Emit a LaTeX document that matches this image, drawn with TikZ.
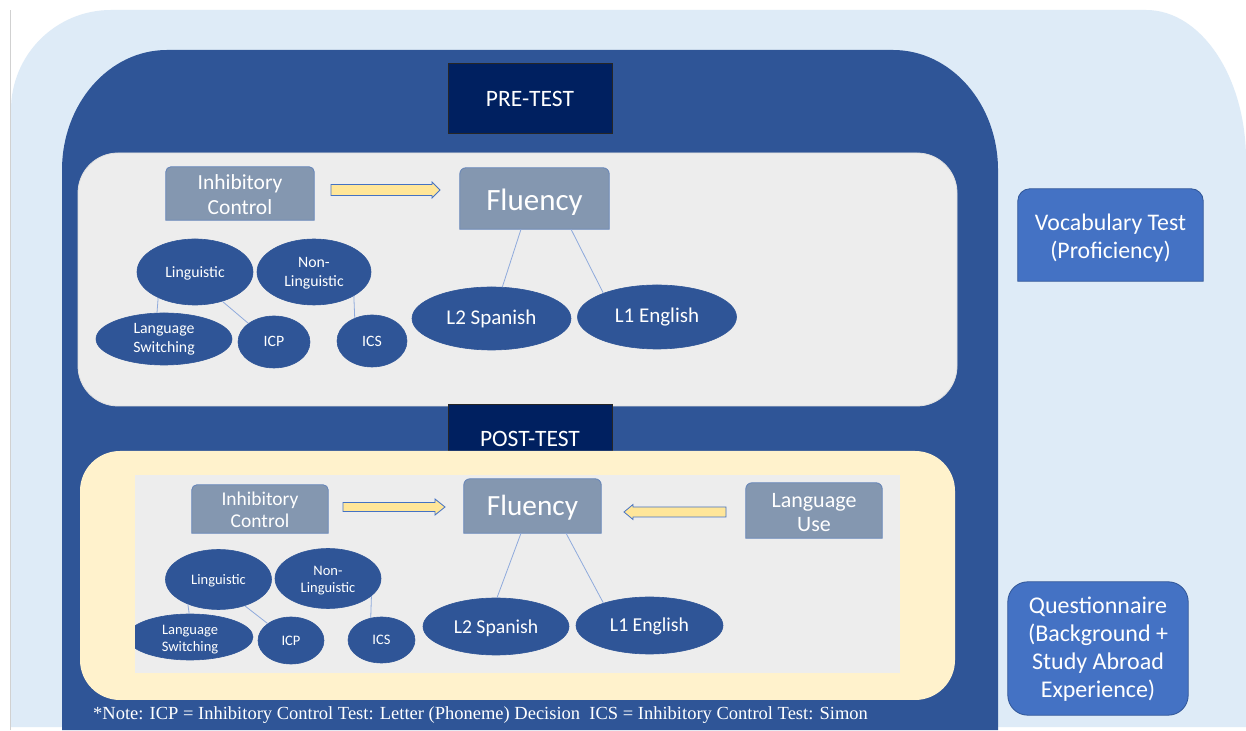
\documentclass[tikz,border=0pt]{standalone}
\usepackage{fontspec}
\setmainfont{Carlito}
\newfontfamily\notefont{Liberation Serif}
\usetikzlibrary{shapes.geometric}

\definecolor{paleblue}{HTML}{DEEBF7}
\definecolor{frameblue}{HTML}{2F5597}
\definecolor{navy}{HTML}{002060}
\definecolor{panelgray}{HTML}{EDEDED}
\definecolor{cream}{HTML}{FFF2CC}
\definecolor{slate}{HTML}{8497B0}
\definecolor{slateedge}{HTML}{6383B8}
\definecolor{ovalblue}{HTML}{2F5597}
\definecolor{linkblue}{HTML}{8FAADC}
\definecolor{arrowfill}{HTML}{FFE699}
\definecolor{arrowedge}{HTML}{4472C4}
\definecolor{sideblue}{HTML}{4472C4}

\pgfdeclarelayer{back}
\pgfdeclarelayer{boxes}
\pgfsetlayers{back,boxes,main}

\newcommand\fsz[2]{\fontsize{#1}{#2}\selectfont}
% box outline with rounded top corners and square bottom corners
\newcommand\toprounded[3]{%
  \path[#2] (#1.south west) -- ([yshift=-#3]#1.north west)
    arc[start angle=180,end angle=90,radius=#3] -- ([xshift=-#3]#1.north east)
    arc[start angle=90,end angle=0,radius=#3] -- (#1.south east) -- cycle;}

\begin{document}
\begin{tikzpicture}[x=1pt,y=1pt,
  % drop: distance from the node centre down to the last text baseline
  drop/.style={text height=2*#1, text depth=0pt},
  txt/.style={text=white, align=center, inner sep=0pt},
  oval/.style={ellipse, fill=ovalblue, draw=ovalblue, line width=0.6pt,
    text=white, align=center, inner sep=0pt},
  testbox/.style={fill=navy, draw=black!85, line width=1pt, text=white,
    minimum width=164, minimum height=70, font=\fsz{23.5}{27}},
  slatefill/.style={fill=slate, draw=slateedge, line width=0.8pt},
  sidefill/.style={fill=sideblue, draw=frameblue, line width=0.8pt},
  conn/.style={draw=linkblue, line width=0.8pt},
  blockarrow/.style={fill=arrowfill, draw=arrowedge, line width=0.8pt, line join=miter}]

\useasboundingbox (0,0) rectangle (1246,730);

\begin{pgfonlayer}{back}
  \fill[white] (0,0) rectangle (1246,730);
  % outer pale panel
  \fill[paleblue] (11,3) -- (11,620)
    arc[start angle=180,end angle=90,x radius=100,y radius=100] -- (1146,720)
    arc[start angle=90,end angle=0,x radius=100,y radius=150] -- (1246,3) -- cycle;
  \draw[black!18, line width=1pt] (10,0) -- (10,720);
  % dark study frame
  \fill[frameblue] (62,0) -- (62,560)
    arc[start angle=180,end angle=90,x radius=105,y radius=120] -- (893,680)
    arc[start angle=90,end angle=0,x radius=105,y radius=120] -- (998,0) -- cycle;
  \node[testbox, drop=8pt] (pre) at (530,631) {PRE-TEST};
  \filldraw[fill=panelgray, draw=black!12, line width=0.8pt, rounded corners=40]
    (78,324) rectangle (957,577);
  \node[testbox, drop=7pt] (post) at (530,290) {POST-TEST};
  \fill[cream, rounded corners=40] (80,30) rectangle (955,279);
  \fill[panelgray] (135,57) rectangle (900,255);
\end{pgfonlayer}

% ---------- pre-test ----------
\node[txt, minimum width=148, minimum height=53, font=\fsz{21.5}{25}, drop=21.5pt] (ic1) at (240,536.5) {Inhibitory\\Control};
\node[txt, minimum width=149, minimum height=61, font=\fsz{31}{34}, drop=12.5pt] (fl1) at (534.5,531.5) {Fluency};
\node[oval, minimum width=116, minimum height=66, font=\fsz{15.8}{19}, drop=6pt] (ling1) at (195,458) {Linguistic};
\node[oval, minimum width=114, minimum height=66, font=\fsz{15.8}{19}, drop=15pt] (nonling1) at (314,458) {Non-\\Linguistic};
\node[oval, minimum width=136, minimum height=52, font=\fsz{15.8}{19}, drop=14pt] (lsw1) at (164,391) {Language\\Switching};
\node[oval, minimum width=72, minimum height=52, font=\fsz{15.8}{19}, drop=5pt] (icp1) at (274,388) {ICP};
\node[oval, minimum width=70, minimum height=52, font=\fsz{15.8}{19}, drop=6pt] (ics1) at (372,389) {ICS};
\node[oval, minimum width=159, minimum height=63, font=\fsz{21}{24}, drop=6.5pt] (l2a) at (491.5,411.5) {L2 Spanish};
\node[oval, minimum width=159, minimum height=64, font=\fsz{21}{24}, drop=6pt] (l1a) at (657,413) {L1 English};

\draw[conn] (ling1.215) -- (lsw1.105);
\draw[conn] (ling1.313) -- (icp1.144);
\draw[conn] (nonling1.329) -- (ics1.127);
\draw[conn] ([xshift=-13.5pt]fl1.south) -- (l2a.71);
\draw[conn] ([xshift=36.5pt]fl1.south) -- (l1a.156);

\draw[blockarrow] (331,534.5) -- (432,534.5) -- (432,532) -- (440,540)
  -- (432,548) -- (432,545.5) -- (331,545.5) -- cycle;

% ---------- post-test ----------
\node[txt, minimum width=136, minimum height=48, font=\fsz{19.5}{22}, drop=19pt] (ic2) at (260,221) {Inhibitory\\Control};
\node[txt, minimum width=137, minimum height=54, font=\fsz{29.3}{32}, drop=10pt] (fl2) at (532.5,224) {Fluency};
\node[txt, minimum width=136, minimum height=55, font=\fsz{22}{24}, drop=21.5pt] (lu) at (814,219.5) {Language\\Use};

\begin{scope}
  \clip (135,57) rectangle (900,255);
  \node[oval, minimum width=106, minimum height=60, font=\fsz{14.5}{17}, drop=5.5pt] (ling2) at (218.5,150.5) {Linguistic};
  \node[oval, minimum width=106, minimum height=60, font=\fsz{14.5}{17}, drop=14.5pt] (nonling2) at (328,151.5) {Non-\\Linguistic};
  \node[oval, minimum width=126, minimum height=46, font=\fsz{14.5}{17}, drop=15pt] (lsw2) at (190,93) {Language\\Switching};
  \node[oval, minimum width=66, minimum height=47, font=\fsz{14.5}{17}, drop=5.5pt] (icp2) at (291,89.5) {ICP};
  \node[oval, minimum width=67, minimum height=46, font=\fsz{14.5}{17}, drop=5pt] (ics2) at (381.5,90) {ICS};
  \node[oval, minimum width=146, minimum height=57, font=\fsz{19.7}{23}, drop=7.5pt] (l2b) at (496,103.5) {L2 Spanish};
  \node[oval, minimum width=147, minimum height=57, font=\fsz{19.7}{23}, drop=6.5pt] (l1b) at (649.5,104.5) {L1 English};
\end{scope}

\draw[conn] (ling2.219) -- (lsw2.92);
\draw[conn] (ling2.315) -- (icp2.144);
\draw[conn] (nonling2.338) -- (ics2.116);
\draw[conn] ([xshift=-11.5pt]fl2.south) -- (l2b.88);
\draw[conn] ([xshift=33.5pt]fl2.south) -- (l1b.154);

\draw[blockarrow] (343,218.5) -- (435,218.5) -- (435,215) -- (445,223)
  -- (435,231) -- (435,227.5) -- (343,227.5) -- cycle;
\draw[blockarrow] (726,213) -- (633,213) -- (633,210.5) -- (624,218)
  -- (633,225.5) -- (633,223) -- (726,223) -- cycle;

% ---------- side measures ----------
\node[txt, minimum width=185, minimum height=92, font=\fsz{23.8}{28}, drop=24pt] (voc) at (1110.5,495) {Vocabulary Test\\(Proficiency)};
\node[txt, minimum width=180, minimum height=133, font=\fsz{24}{28.3}, drop=49.5pt] (quest) at (1098,81.5) {Questionnaire\\(Background +\\Study Abroad\\Experience)};

\node[anchor=base west, text=white, inner sep=0pt, font={\notefont\fsz{18.5}{21}}] (note) at (93,10)
  {*Note: ICP = Inhibitory Control Test: Letter (Phoneme) Decision\ \ ICS = Inhibitory Control Test: Simon};

\begin{pgfonlayer}{boxes}
  \toprounded{ic1}{slatefill}{5pt}
  \toprounded{fl1}{slatefill}{6pt}
  \toprounded{ic2}{slatefill}{5pt}
  \toprounded{fl2}{slatefill}{6pt}
  \toprounded{lu}{slatefill}{6pt}
  \toprounded{voc}{sidefill}{12pt}
  \path[sidefill, rounded corners=20pt] (quest.south west) rectangle (quest.north east);
\end{pgfonlayer}
\end{tikzpicture}
\end{document}
